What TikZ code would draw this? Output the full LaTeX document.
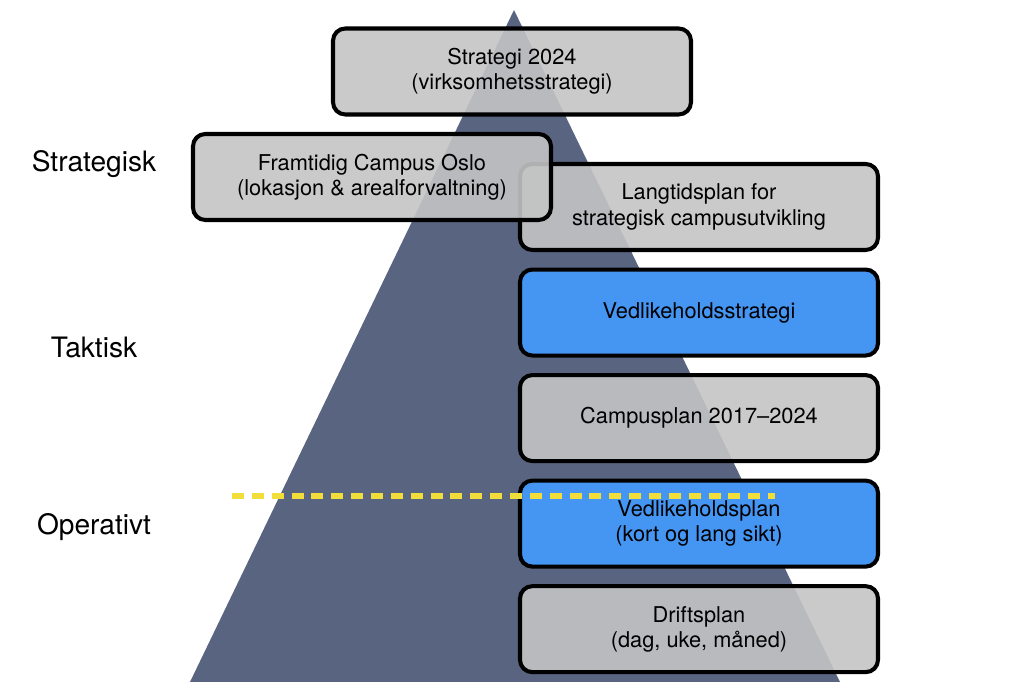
\documentclass[tikz,border=0pt]{standalone}
\usepackage{fontspec}
\setmainfont{TeX Gyre Heros}
\usetikzlibrary{positioning, shapes.geometric}
\definecolor{slate}{HTML}{596580}
\definecolor{boxgrey}{HTML}{C4C4C4}
\definecolor{boxblue}{HTML}{4595F3}
\definecolor{cutyellow}{HTML}{F2DE3A}
\tikzset{
  planbox/.style={rectangle, rounded corners=7pt, draw=black, line width=2.3pt,
    fill=boxgrey, fill opacity=0.9, text opacity=1,
    minimum width=7.16cm, minimum height=1.72cm, align=center,
    font=\fontsize{12.4}{14.5}\selectfont},
  planblue/.style={planbox, fill=boxblue, fill opacity=1},
  levellabel/.style={font=\fontsize{16}{19}\selectfont},
  cutline/.style={cutyellow, line width=3.4pt, dash pattern=on 6.8pt off 4.5pt},
}
\begin{document}
\begin{tikzpicture}
\useasboundingbox (0,0) rectangle (20.48,-13.84);
% pyramid
\fill[slate] (10.28,-0.2) -- (3.8,-13.64) -- (16.8,-13.64) -- cycle;
% top of the pyramid
\node[planbox] (strat) at (10.24,-1.43) {Strategi 2024\\(virksomhetsstrategi)};
% right column
\node[planbox] (langtid) at (13.98,-4.14) {Langtidsplan for\\strategisk campusutvikling};
\node[planbox] (campus) at (7.44,-3.54) {Framtidig Campus Oslo\\(lokasjon \& arealforvaltning)};
\node[planblue, below=0.31cm of langtid] (vstrat) {Vedlikeholdsstrategi};
\node[planbox, below=0.31cm of vstrat] (cplan) {Campusplan 2017--2024};
\node[planblue, below=0.31cm of cplan] (vplan) {Vedlikeholdsplan\\(kort og lang sikt)};
\node[planbox, below=0.31cm of vplan] (drift) {Driftsplan\\(dag, uke, måned)};
% levels
\node[levellabel] (lstrat) at (1.88,-3.28) {Strategisk};
\node[levellabel] (ltakt) at (1.88,-6.94) {Taktisk};
\node[levellabel] (lop) at (1.88,-10.54) {Operativt};
% boundary tactical / operative
\coordinate (cutL) at (4.64,-9.92);
\coordinate (cutR) at (15.5,-9.92);
\draw[cutline] (cutL) -- (cutR);
\end{tikzpicture}
\end{document}
